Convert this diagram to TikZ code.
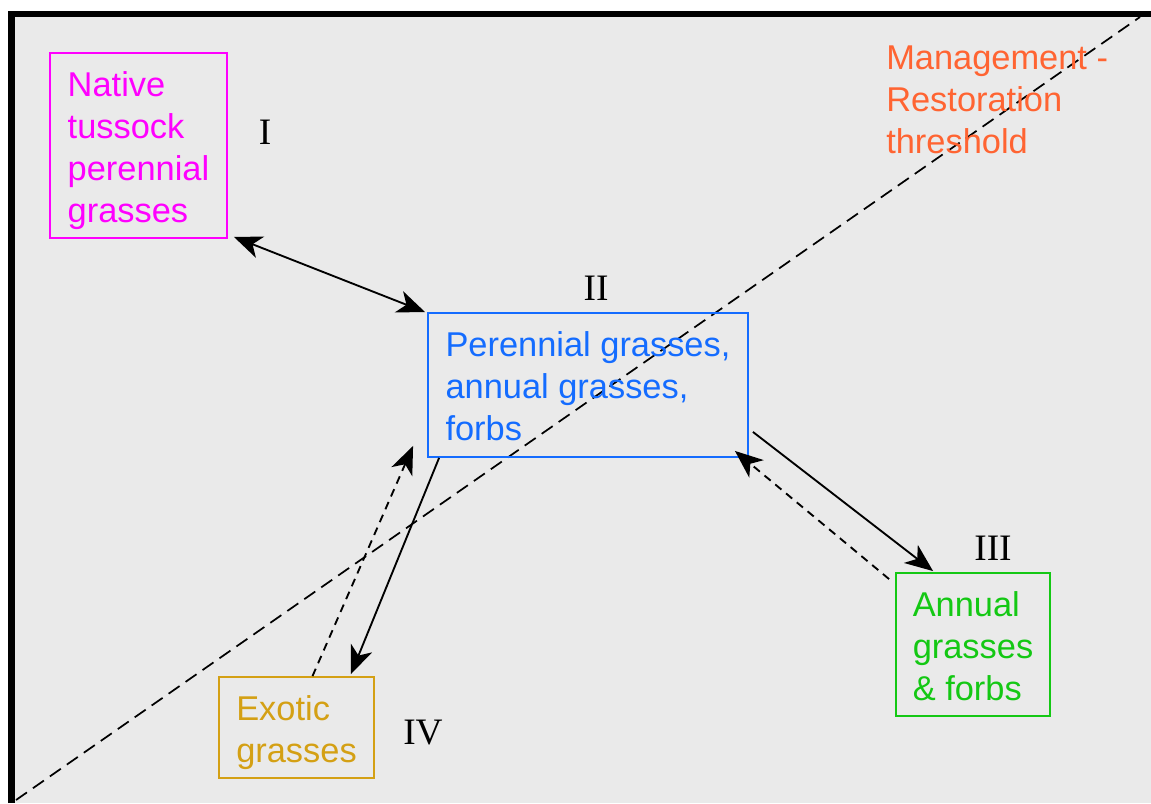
\documentclass[tikz,border=0pt]{standalone}
\usepackage{fontspec}
\setmainfont{Liberation Sans}
\newfontfamily\numfont{Liberation Serif}
\usetikzlibrary{arrows.meta}
\definecolor{bgray}{RGB}{234,234,234}
\definecolor{cmag}{RGB}{255,0,255}
\definecolor{cblue}{RGB}{20,108,255}
\definecolor{cgreen}{RGB}{20,200,20}
\definecolor{cgold}{RGB}{212,160,20}
\definecolor{corange}{RGB}{255,100,50}
\tikzset{
  statebox/.style={draw, line width=1.4pt, inner sep=0pt},
  boxtext/.style={align=left, inner sep=0pt, font=\fontsize{25.8}{31.5}\selectfont},
  numlabel/.style={font=\numfont\fontsize{28}{30}\selectfont, inner sep=0pt},
  conn/.style={line width=1.4pt, -{Stealth[length=21pt,width=17pt,inset=6pt]}},
  dconn/.style={conn, dash pattern=on 6pt off 4.5pt},
  biconn/.style={line width=1.4pt, {Stealth[length=21pt,width=17pt,inset=6pt]}-{Stealth[length=21pt,width=17pt,inset=6pt]}},
  threshold/.style={line width=1.3pt, dash pattern=on 10pt off 5.5pt}
}
\begin{document}
\begin{tikzpicture}[x=0.75pt,y=-0.75pt]
\useasboundingbox (0,0) rectangle (1151,803);
\fill[bgray] (11.5,14) rectangle (1151,803);
\draw[line width=4.8pt] (11.5,803) -- (11.5,14) -- (1151,14);
% threshold line
\coordinate (t1) at (16,800);
\coordinate (t2) at (1140,17);
\draw[threshold] (t1) -- (t2);
% boxes
\node[statebox, cmag, minimum width=132.75pt, minimum height=138.75pt] (nat) at (138.5,145.5) {};
\node[boxtext, cmag] (natt) at ([yshift=-4pt]nat.center) {Native\\tussock\\perennial\\grasses};
\node[statebox, cblue, minimum width=240pt, minimum height=108pt] (two) at (588,385) {};
\node[boxtext, cblue] (twot) at ([yshift=-1pt]two.center) {Perennial grasses,\\annual grasses,\\forbs};
\node[statebox, cgreen, minimum width=115.5pt, minimum height=107.25pt] (three) at (973,644.5) {};
\node[boxtext, cgreen] (threet) at ([yshift=-1.5pt]three.center) {Annual\\grasses\\\& forbs};
\node[statebox, cgold, minimum width=116.25pt, minimum height=75.75pt] (four) at (296.5,727.5) {};
\node[boxtext, cgold] (fourt) at ([yshift=-4pt]four.center) {Exotic\\grasses};
% labels
\node[numlabel] (lI) at (265,132) {I};
\node[numlabel] (lII) at (596,288) {II};
\node[numlabel] (lIII) at (993,548) {III};
\node[numlabel] (lIV) at (423,733) {IV};
\node[corange, boxtext, anchor=west] (mgmt) at (886,100)
  {Management -\\Restoration\\threshold};
% connectors
\draw[biconn] ([shift={(6,-2)}]nat.south east) -- ([shift={(-2,0)}]two.north west);
\draw[conn] ([shift={(12,0)}]two.south west) -- ([shift={(-24,-2)}]four.north east);
\draw[dconn] ([shift={(16,0)}]four.north) -- ([shift={(-14,-12)}]two.south west);
\draw[conn] ([shift={(4,-26)}]two.south east) -- ([shift={(38,-1)}]three.north west);
\draw[dconn] ([shift={(-6,7)}]three.north west) -- ([shift={(-14,-7)}]two.south east);
\end{tikzpicture}
\end{document}
